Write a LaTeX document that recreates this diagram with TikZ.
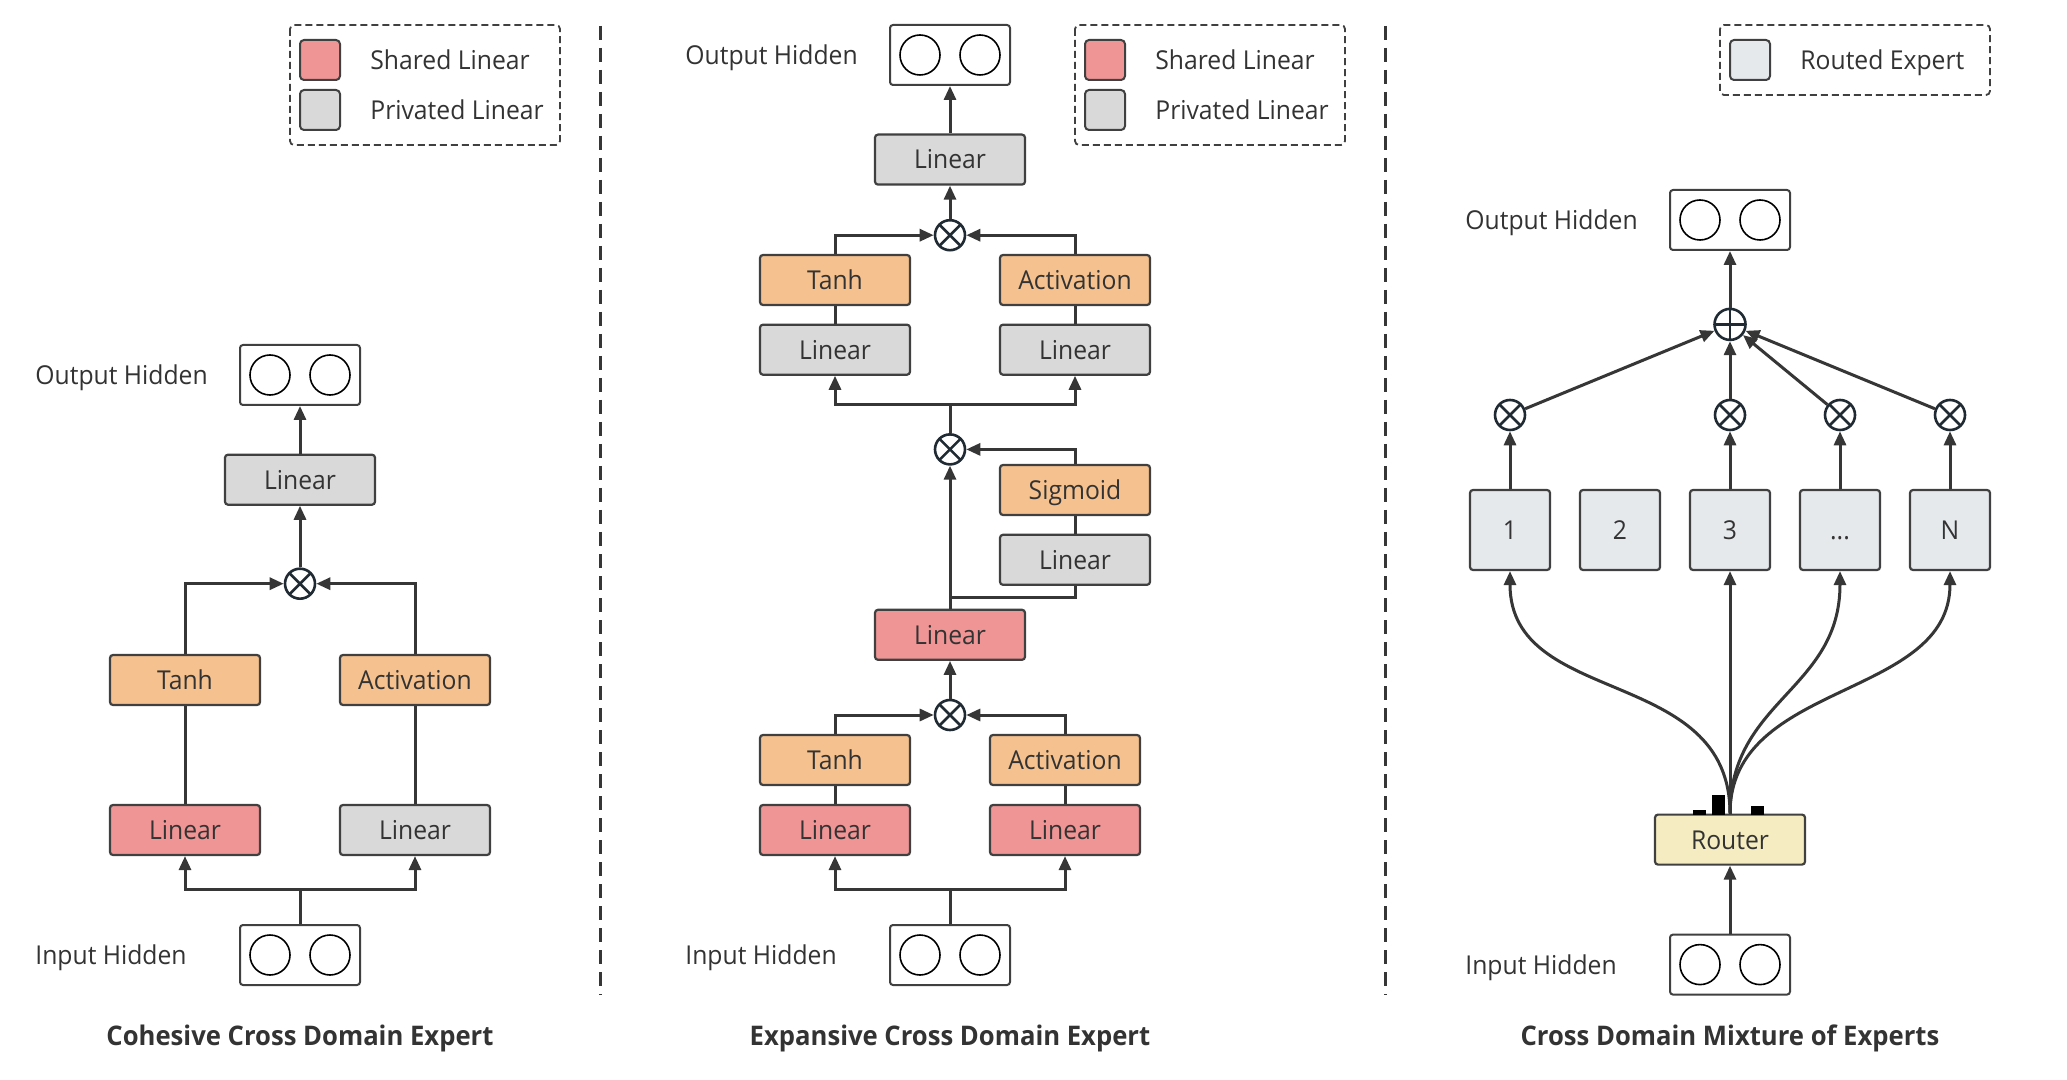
\documentclass[tikz,border=0pt]{standalone}
\usepackage{fontspec}
\setmainfont{Open Sans}[FakeStretch=0.95]
\usetikzlibrary{arrows.meta}
\definecolor{sharedc}{HTML}{F09595}
\definecolor{privc}{HTML}{D9D9D9}
\definecolor{actc}{HTML}{F5C28F}
\definecolor{routerc}{HTML}{F5EDC1}
\definecolor{routedc}{HTML}{E6E9EC}
\definecolor{bordc}{HTML}{404040}
\definecolor{linec}{HTML}{363636}
\definecolor{txt}{HTML}{333333}
\definecolor{opc}{HTML}{1F2A33}
\newcommand\fs{\fontsize{13pt}{15pt}\selectfont}
\newcommand\fst{\fontsize{13.5pt}{16pt}\selectfont\bfseries}
\tikzset{
  box/.style={draw=bordc, line width=1.1pt, rounded corners=1.5pt, minimum width=75pt, minimum height=25pt, inner sep=0pt, text=txt, font=\fs, text height=9.4pt, text depth=0pt},
  sharedbox/.style={box, fill=sharedc},
  privbox/.style={box, fill=privc},
  actbox/.style={box, fill=actc},
  routerbox/.style={box, fill=routerc},
  expertbox/.style={box, fill=routedc, minimum width=40pt, minimum height=40pt},
  hid/.style={draw=bordc, line width=1pt, rounded corners=1.5pt, minimum width=60pt, minimum height=30pt, inner sep=0pt, fill=white,
    path picture={\draw[line width=0.8pt, black] ([xshift=-15pt]path picture bounding box.center) circle (10pt)
                                                 ([xshift=15pt]path picture bounding box.center) circle (10pt);}},
  arr/.style={draw=linec, line width=1.5pt, -{Triangle[length=7pt,width=6pt]}},
  ln/.style={draw=linec, line width=1.5pt},
  otimes/.style={circle, draw=opc, line width=1.3pt, minimum size=15pt, inner sep=0pt, fill=white,
    path picture={\draw[line width=1.3pt, opc] (path picture bounding box.north west) -- (path picture bounding box.south east)
       (path picture bounding box.north east) -- (path picture bounding box.south west);}},
  oplus/.style={circle, draw=opc, line width=1.3pt, minimum size=15.5pt, inner sep=0pt, fill=white,
    path picture={\draw[line width=1.3pt, opc] (path picture bounding box.north) -- (path picture bounding box.south)
       (path picture bounding box.east) -- (path picture bounding box.west);}},
  lbl/.style={anchor=base west, inner sep=0pt, font=\fs, text=txt},
  ttl/.style={anchor=base, inner sep=0pt, font=\fst, text=txt},
  legendbox/.style={draw=bordc, line width=0.9pt, dash pattern=on 3.5pt off 2pt, rounded corners=2pt},
  swatch/.style={draw=bordc, line width=1pt, rounded corners=2pt, minimum width=20pt, minimum height=20pt, inner sep=0pt},
  sep/.style={draw=linec, line width=1.5pt, dash pattern=on 7pt off 4pt},
}
\begin{document}
\begin{tikzpicture}[x=0.5pt, y=-0.5pt]
\fill[white] (0,0) rectangle (2067,1080);
\useasboundingbox (0,0) rectangle (2067,1080);

% ---------------- Column 1 ----------------
\draw[legendbox] (290,25) rectangle (560,145);
\node[swatch, fill=sharedc] (sw1a) at (320,60) {};
\node[swatch, fill=privc] (sw1b) at (320,110) {};
\node[lbl] (lg1a) at (370,69.6) {Shared Linear};
\node[lbl] (lg1b) at (370,119.8) {Privated Linear};

\node[hid] (out1) at (300,375) {};
\node[lbl] (out1l) at (35,385) {Output Hidden};
\node[privbox] (top1) at (300,479.7) {Linear};
\node[otimes] (ot1) at (300,583.7) {};
\node[actbox] (tanh1) at (185,680) {Tanh};
\node[actbox] (act1) at (415,680) {Activation};
\node[sharedbox] (linA1) at (185,830) {Linear};
\node[privbox] (linB1) at (415,830) {Linear};
\node[hid] (in1) at (300,955) {};
\node[lbl] (in1l) at (35,964.4) {Input Hidden};
\coordinate (s1) at (300,889.5);
\node[ttl] (t1) at (300,1045.5) {Cohesive Cross Domain Expert};

\draw[ln] (in1.north) -- (s1);
\draw[arr] (s1) -| (linA1.south);
\draw[arr] (s1) -| (linB1.south);
\draw[ln] (linA1.north) -- (tanh1.south);
\draw[ln] (linB1.north) -- (act1.south);
\draw[arr] (tanh1.north) |- (ot1.west);
\draw[arr] (act1.north) |- (ot1.east);
\draw[arr] (ot1.north) -- (top1.south);
\draw[arr] (top1.north) -- (out1.south);

\draw[sep] (600,26) -- (600,995);

% ---------------- Column 2 ----------------
\draw[legendbox] (1075,25) rectangle (1345,145);
\node[swatch, fill=sharedc] (sw2a) at (1105,60) {};
\node[swatch, fill=privc] (sw2b) at (1105,110) {};
\node[lbl] (lg2a) at (1155,69.6) {Shared Linear};
\node[lbl] (lg2b) at (1155,119.8) {Privated Linear};

\node[hid] (out2) at (950,55) {};
\node[lbl] (out2l) at (685,64.7) {Output Hidden};
\node[privbox] (top2) at (950,159.6) {Linear};
\node[otimes] (otA) at (950,235.2) {};
\node[actbox] (tanh2) at (835,280) {Tanh};
\node[actbox] (act2) at (1075,280) {Activation};
\node[privbox] (linC) at (835,349.7) {Linear};
\node[privbox] (linD) at (1075,349.7) {Linear};
\coordinate (s3) at (950,404.6);
\node[otimes] (otB) at (950,449.4) {};
\node[actbox] (sig) at (1075,490) {Sigmoid};
\node[privbox] (linE) at (1075,559.8) {Linear};
\coordinate (j2) at (950,597.5);
\node[sharedbox] (linR) at (950,634.8) {Linear};
\node[otimes] (otC) at (950,715) {};
\node[actbox] (tanh3) at (835,760) {Tanh};
\node[actbox] (act3) at (1065,760) {Activation};
\node[sharedbox] (linF) at (835,830) {Linear};
\node[sharedbox] (linG) at (1065,830) {Linear};
\coordinate (s2) at (950,889.5);
\node[hid] (in2) at (950,955) {};
\node[lbl] (in2l) at (685,964.4) {Input Hidden};
\node[ttl] (t2) at (950,1045.5) {Expansive Cross Domain Expert};

\draw[ln] (in2.north) -- (s2);
\draw[arr] (s2) -| (linF.south);
\draw[arr] (s2) -| (linG.south);
\draw[ln] (linF.north) -- (tanh3.south);
\draw[ln] (linG.north) -- (act3.south);
\draw[arr] (tanh3.north) |- (otC.west);
\draw[arr] (act3.north) |- (otC.east);
\draw[arr] (otC.north) -- (linR.south);
\draw[arr] (linR.north) -- (otB.south);
\draw[ln] (linE.south) |- (j2);
\draw[ln] (linE.north) -- (sig.south);
\draw[arr] (sig.north) |- (otB.east);
\draw[ln] (otB.north) -- (s3);
\draw[arr] (s3) -| (linC.south);
\draw[arr] (s3) -| (linD.south);
\draw[ln] (linC.north) -- (tanh2.south);
\draw[ln] (linD.north) -- (act2.south);
\draw[arr] (tanh2.north) |- (otA.west);
\draw[arr] (act2.north) |- (otA.east);
\draw[arr] (otA.north) -- (top2.south);
\draw[arr] (top2.north) -- (out2.south);

\draw[sep] (1385,26) -- (1385,995);

% ---------------- Column 3 ----------------
\draw[legendbox] (1720,25) rectangle (1990,95);
\node[swatch, fill=routedc] (sw3) at (1750,60) {};
\node[lbl] (lg3) at (1800,69.6) {Routed Expert};

\node[hid] (out3) at (1730,220) {};
\node[lbl] (out3l) at (1465,230) {Output Hidden};
\node[oplus] (op) at (1730,324.4) {};
\node[otimes] (x1) at (1510,415) {};
\node[otimes] (x3) at (1730,415) {};
\node[otimes] (x4) at (1840,415) {};
\node[otimes] (xN) at (1950,415) {};
\node[expertbox] (e1) at (1510,530) {1};
\node[expertbox] (e2) at (1620,530) {2};
\node[expertbox] (e3) at (1730,530) {3};
\node[expertbox] (e4) at (1840,530) {...};
\node[expertbox] (eN) at (1950,530) {N};
\node[routerbox] (router) at (1730,839.6) {Router};
\node[hid] (in3) at (1730,964.6) {};
\node[lbl] (in3l) at (1465,974.6) {Input Hidden};
\node[ttl] (t3) at (1730,1045.5) {Cross Domain Mixture of Experts};

\fill[black] (1693,810.3) rectangle (1706,814.8);
\fill[black] (1712,794.5) rectangle (1725.3,814.8);
\fill[black] (1751,805.5) rectangle (1764,814.8);

\draw[arr] (in3.north) -- (router.south);
\draw[arr] (router.north) .. controls (1730,665) and (1510,708) .. (e1.south);
\draw[arr] (router.north) -- (e3.south);
\draw[arr] (router.north) .. controls (1730,700) and (1840,690) .. (e4.south);
\draw[arr] (router.north) .. controls (1730,680) and (1950,700) .. (eN.south);
\draw[arr] (e1.north) -- (x1.south);
\draw[arr] (e3.north) -- (x3.south);
\draw[arr] (e4.north) -- (x4.south);
\draw[arr] (eN.north) -- (xN.south);
\draw[arr] (x1) -- (op);
\draw[arr] (x3) -- (op);
\draw[arr] (x4) -- (op);
\draw[arr] (xN) -- (op);
\draw[arr] (op.north) -- (out3.south);
\end{tikzpicture}
\end{document}
